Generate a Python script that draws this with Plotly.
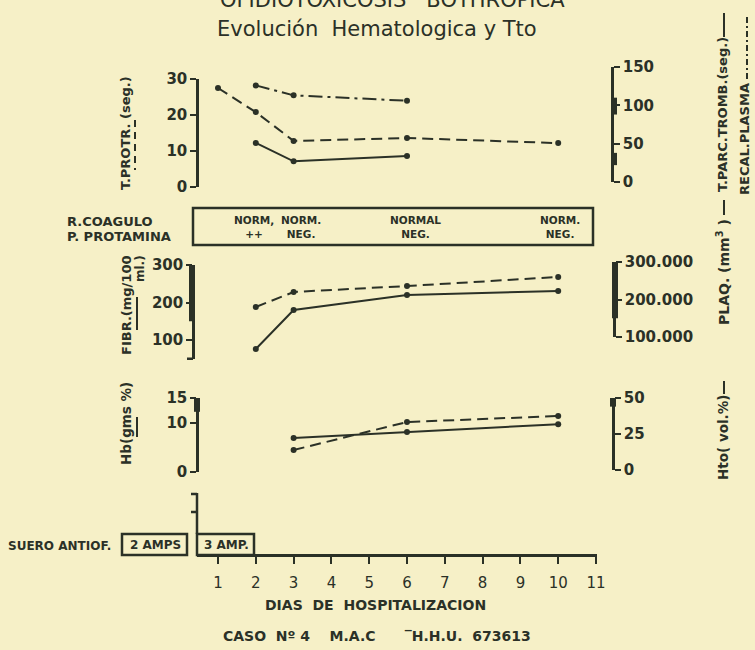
import plotly.graph_objects as go

W, H = 755, 650
INK = "#2b3127"
BG = "#f6f0c7"
FONT = "DejaVu Sans"

# ---------------- data ----------------
days_tprotr = [1, 2, 3, 6, 10]
tprotr = [27.5, 20.8, 12.8, 13.6, 12.2]          # T.PROTR. (seg.)  left axis
days_tparc = [2, 3, 6]
tparc = [51, 27, 34]                             # T.PARC.TROMB (seg.) right axis
days_recal = [2, 3, 6]
recal = [126, 113, 106]                          # RECAL. PLASMA right axis
days_fibr = [2, 3, 6, 10]
fibr = [76, 180, 220, 231]                       # FIBR. mg/100 ml
days_plaq = [2, 3, 6, 10]
plaq = [180000, 220000, 236000, 260000]          # PLAQ. mm3
days_hb = [3, 6, 10]
hb = [6.9, 8.1, 9.7]                             # Hb gms %
days_hto = [3, 6, 10]
hto = [13.9, 33.3, 37.5]                         # Hto vol %

coag_days = [2, 3, 6, 10]
coag_r = ["NORM,", "NORM.", "NORMAL", "NORM."]
coag_p = ["++", "NEG.", "NEG.", "NEG."]
day_ticks = list(range(1, 12))

tick_tprotr = [0, 10, 20, 30]
tick_tparc = [0, 50, 100, 150]
tick_fibr = [100, 200, 300]
tick_plaq = [100000, 200000, 300000]
tick_plaq_txt = ["100.000", "200.000", "300.000"]
tick_hb = [0, 10, 15]
tick_hto = [0, 25, 50]


def px(x):
    return x / W


def py(y):
    return 1 - y / H


def bfont(size):
    return dict(family=FONT, size=size, color=INK, weight="bold")


fig = go.Figure()


def add_series(xs, ys, yaxis, dash):
    fig.add_trace(go.Scatter(
        x=xs, y=ys, xaxis="x", yaxis=yaxis, mode="lines+markers",
        line=dict(color=INK, width=2, dash=dash),
        marker=dict(color=INK, size=6),
        cliponaxis=False, showlegend=False, hoverinfo="skip"))


DASH = "11px,6px"
DASHDOT = "14px,5px,3px,5px"

add_series(days_tprotr, tprotr, "y", DASH)
add_series(days_tparc, tparc, "y2", "solid")
add_series(days_recal, recal, "y2", DASHDOT)
add_series(days_fibr, fibr, "y3", "solid")
add_series(days_plaq, plaq, "y4", DASH)
add_series(days_hb, hb, "y5", "solid")
add_series(days_hto, hto, "y6", DASH)

common = dict(showgrid=False, zeroline=False, showline=True, linecolor=INK,
              linewidth=2.5, ticks="outside", tickcolor=INK, tickwidth=2,
              ticklen=6, tickfont=bfont(15), fixedrange=True, automargin=False)


def yax(top, bottom, rng, pos, side, tv, tt=None):
    d = dict(common)
    d.update(domain=[py(bottom), py(top)], range=rng, anchor="free",
             position=px(pos), side=side, tickvals=tv)
    if tt is not None:
        d["ticktext"] = tt
    return d


x0_day, px_per_day = 218, 37.8
xl, xr = 197, 597
layout_x = dict(common)
layout_x.update(domain=[px(xl), px(xr)],
                range=[1 + (xl - x0_day) / px_per_day, 1 + (xr - x0_day) / px_per_day],
                anchor="free", position=py(555), tickvals=day_ticks,
                ticklen=7, ticklabelstandoff=6)
layout_x["tickfont"] = dict(family=FONT, size=15, color=INK)

fig.update_layout(
    template="none",
    width=W, height=H, margin=dict(l=0, r=0, t=0, b=0, pad=0, autoexpand=False),
    paper_bgcolor=BG, plot_bgcolor="rgba(0,0,0,0)",
    xaxis=layout_x,
    yaxis=yax(79, 187, [0, 30], 197, "left", tick_tprotr),
    yaxis2=yax(67, 182, [0, 150], 612, "right", tick_tparc),
    yaxis3=yax(265, 358.75, [50, 300], 193, "left", tick_fibr),
    yaxis4=yax(262, 337, [100000, 300000], 614, "right", tick_plaq, tick_plaq_txt),
    yaxis5=yax(398, 472, [0, 15], 197, "left", tick_hb),
    yaxis6=yax(398, 470, [0, 50], 613, "right", tick_hto),
)

shapes = []


# thick normal-range bars on the axes
def bar(xpos, yref, a, b):
    shapes.append(dict(type="line", xref="paper", yref=yref, x0=px(xpos), x1=px(xpos),
                       y0=a, y1=b, line=dict(color=INK, width=6)))


bar(614, "y2", 88, 110)
bar(614, "y2", 22, 38)
bar(192, "y3", 150, 300)
bar(615, "y4", 150000, 300000)
bar(197, "y5", 12.2, 15)
bar(613, "y6", 44, 50)


def rect(x0, y0, x1, y1, w=2.5):
    shapes.append(dict(type="rect", xref="paper", yref="paper",
                       x0=px(x0), x1=px(x1), y0=py(y1), y1=py(y0),
                       line=dict(color=INK, width=w)))


def seg(x0, y0, x1, y1, dash="solid", w=2):
    shapes.append(dict(type="line", xref="paper", yref="paper",
                       x0=px(x0), x1=px(x1), y0=py(y0), y1=py(y1),
                       line=dict(color=INK, width=w, dash=dash)))


# bottom serif of the fibrinogen bracket
seg(187, 358.75, 193, 358.75, w=2.5)
# coagulation box
rect(193, 208, 593, 245)
# serum boxes
rect(122, 534, 187, 555)
rect(197, 534, 254, 555)
# small serum axis bracket
seg(197, 493, 197, 534, w=2.5)
seg(191, 494, 197, 494, w=2.5)
seg(191, 512, 197, 512, w=2.5)

# legend line samples beside rotated labels
seg(135, 120, 135, 170, dash="7px,5px")
seg(137, 297, 137, 330)
seg(137, 417, 137, 437)
seg(724, 13, 724, 37)
seg(747, 17, 747, 80, dash="6px,3px,2px,3px")
seg(724, 200, 724, 215)
seg(724, 381, 724, 394)

fig.update_layout(shapes=shapes)

ann = []


def text(x, y, s, size=13, bold=True, angle=0, xanchor="center", yanchor="middle",
         align="center"):
    ann.append(dict(xref="paper", yref="paper", x=px(x), y=py(y), text=s,
                    showarrow=False, textangle=angle, xanchor=xanchor,
                    yanchor=yanchor, align=align,
                    font=bfont(size) if bold else dict(family=FONT, size=size, color=INK)))


text(392, 0, "OFIDIOTOXICOSIS   BOTHROPICA", size=21, bold=False)
text(377, 29, "Evolución  Hematologica y Tto", size=21, bold=False)

text(125, 133, "T.PROTR. (seg.)", size=13, angle=-90)
text(126, 305, "FIBR.(mg/100", size=13, angle=-90)
text(140, 269, "ml.)", size=12, angle=-90)
text(126, 424, "Hb(gms %)", size=13.5, angle=-90)

text(722, 115, "T.PARC.TROMB.(seg.)", size=13, angle=-90)
text(745, 139, "RECAL.PLASMA", size=13, angle=-90)
text(723, 272, "PLAQ. (mm<sup>3</sup> )", size=14, angle=-90)
text(723, 438, "Hto( vol.%)", size=13.5, angle=-90)

text(65, 221, "R.COAGULO", size=13, xanchor="left")
text(65, 237, "P. PROTAMINA", size=13, xanchor="left")

text(6, 546, "SUERO ANTIOF.", size=12, xanchor="left")
text(155, 545, "2 AMPS", size=12)
text(226, 545, "3 AMP.", size=12)

text(375, 605, "DIAS  DE  HOSPITALIZACION", size=14)
text(377, 636, "CASO  Nº 4    M.A.C      ‾H.H.U.  673613", size=14)

coag_shift = {2: -2, 3: 7, 6: 8, 10: 2}
for d, a, b in zip(coag_days, coag_r, coag_p):
    ann.append(dict(xref="x", yref="paper", x=d, y=py(227), xshift=coag_shift[d],
                    text=a + "<br>" + b, showarrow=False, align="center",
                    xanchor="center", yanchor="middle", font=bfont(10.5)))

fig.update_layout(annotations=ann)

fig.write_html("out.html", config={"displayModeBar": False},
               post_script="document.body.style.margin='0';document.body.style.overflow='hidden';")
